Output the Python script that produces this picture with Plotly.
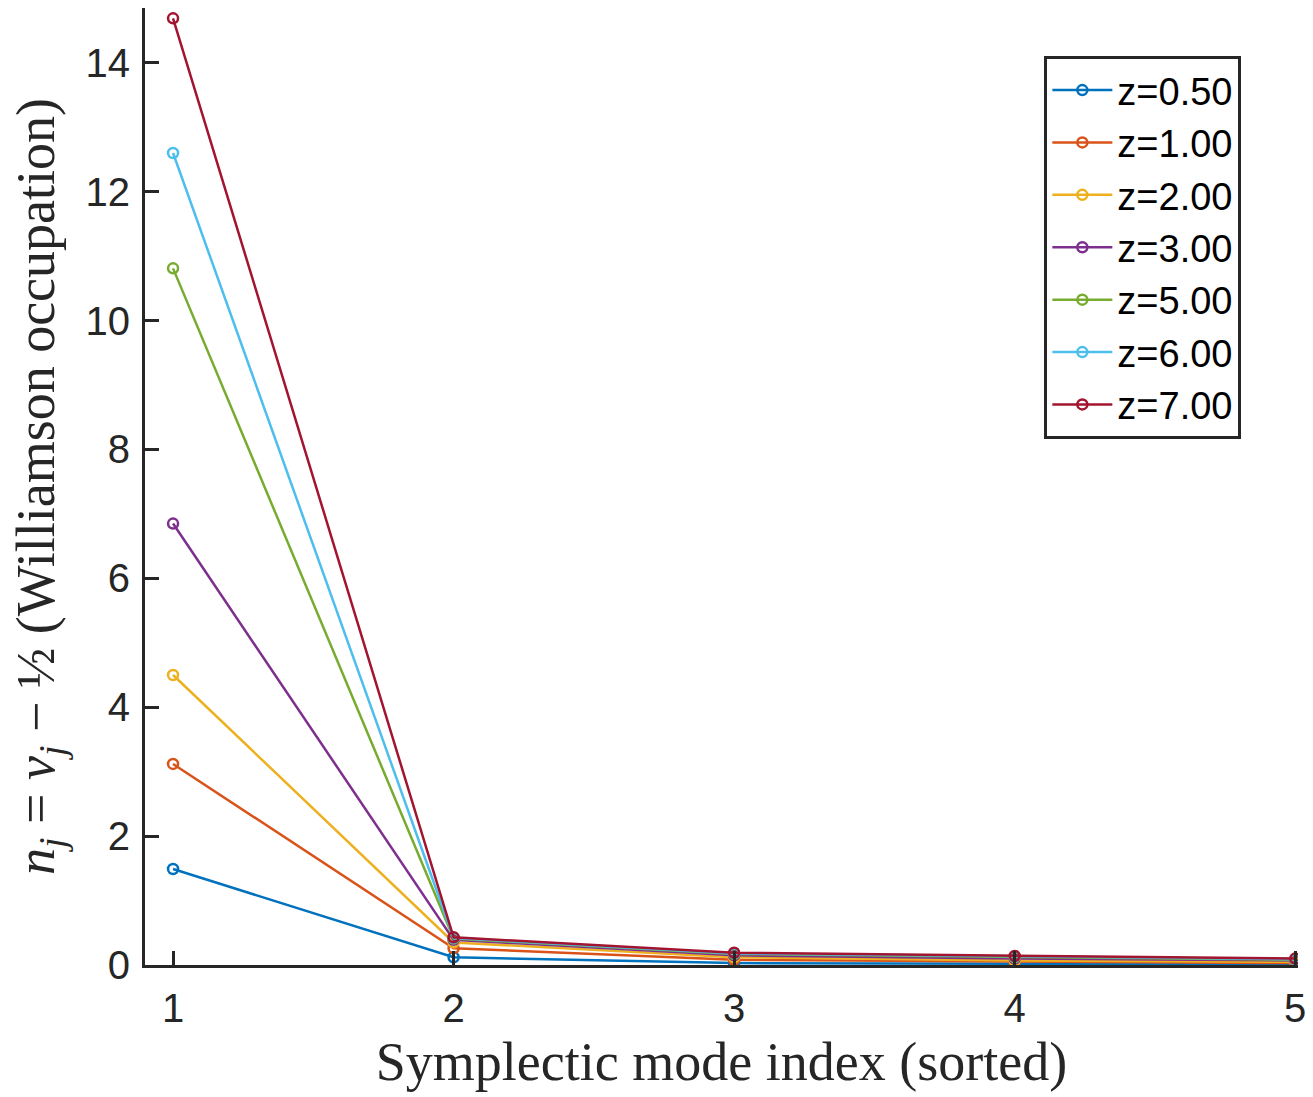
import plotly.graph_objects as go

mode_index = [1, 2, 3, 4, 5]
z_labels = ["z=0.50", "z=1.00", "z=2.00", "z=3.00", "z=5.00", "z=6.00", "z=7.00"]
occ_z050 = [1.49, 0.12, 0.03, 0.02, 0.01]
occ_z100 = [3.12, 0.26, 0.08, 0.05, 0.03]
occ_z200 = [4.50, 0.35, 0.12, 0.07, 0.05]
occ_z300 = [6.85, 0.39, 0.15, 0.10, 0.07]
occ_z500 = [10.81, 0.41, 0.17, 0.12, 0.08]
occ_z600 = [12.60, 0.42, 0.18, 0.13, 0.09]
occ_z700 = [14.69, 0.43, 0.19, 0.14, 0.10]
series = [occ_z050, occ_z100, occ_z200, occ_z300, occ_z500, occ_z600, occ_z700]
colors = ["#0072BD", "#D95319", "#EDB120", "#7E2F8E", "#77AC30", "#4DBEEE", "#A2142F"]
y_ticks = [0, 2, 4, 6, 8, 10, 12, 14]
x_ticks = [1, 2, 3, 4, 5]

fig = go.Figure()
for lab, vals, col in zip(z_labels, series, colors):
    fig.add_trace(go.Scatter(
        x=mode_index, y=vals, name=lab, mode="lines+markers",
        line=dict(color=col, width=2.5),
        marker=dict(symbol="circle-open", size=10, color=col, line=dict(width=2.5, color=col)),
    ))

tick_font = dict(family="Liberation Sans, Arial, sans-serif", size=40, color="#262626")
serif = "Liberation Serif, Times New Roman, serif"
fig.update_layout(
    width=1313, height=1097,
    margin=dict(l=145, r=15, t=8, b=132),
    paper_bgcolor="white", plot_bgcolor="white",
    showlegend=True,
    legend=dict(
        x=0.78, y=0.95, xanchor="left", yanchor="top",
        bgcolor="white", bordercolor="#262626", borderwidth=3,
        font=dict(family="Liberation Sans, Arial, sans-serif", size=38, color="#000000"),
        itemwidth=60, tracegroupgap=0,
    ),
    xaxis=dict(
        range=[0.9, 5.01], tickvals=x_ticks, ticktext=[str(v) for v in x_ticks],
        showgrid=False, zeroline=False, showline=True, linecolor="#262626", linewidth=3,
        ticks="inside", ticklen=14, tickwidth=3, tickcolor="#262626",
        tickfont=tick_font, mirror=False, ticklabelstandoff=6,
        title=dict(text="Symplectic mode index (sorted)",
                   font=dict(family=serif, size=54, color="#262626"),
                   standoff=14),
    ),
    yaxis=dict(
        range=[0, 14.85], tickvals=y_ticks, ticktext=[str(v) for v in y_ticks],
        showgrid=False, zeroline=False, showline=True, linecolor="#262626", linewidth=3,
        ticks="inside", ticklen=14, tickwidth=3, tickcolor="#262626",
        tickfont=tick_font, mirror=False, ticklabelstandoff=4,
        title=dict(text="<i>n<sub>j</sub></i> = <i>ν<sub>j</sub></i> − ½ (Williamson occupation)",
                   font=dict(family=serif, size=54, color="#262626"),
                   standoff=14),
    ),
)
fig.write_html("out.html")
